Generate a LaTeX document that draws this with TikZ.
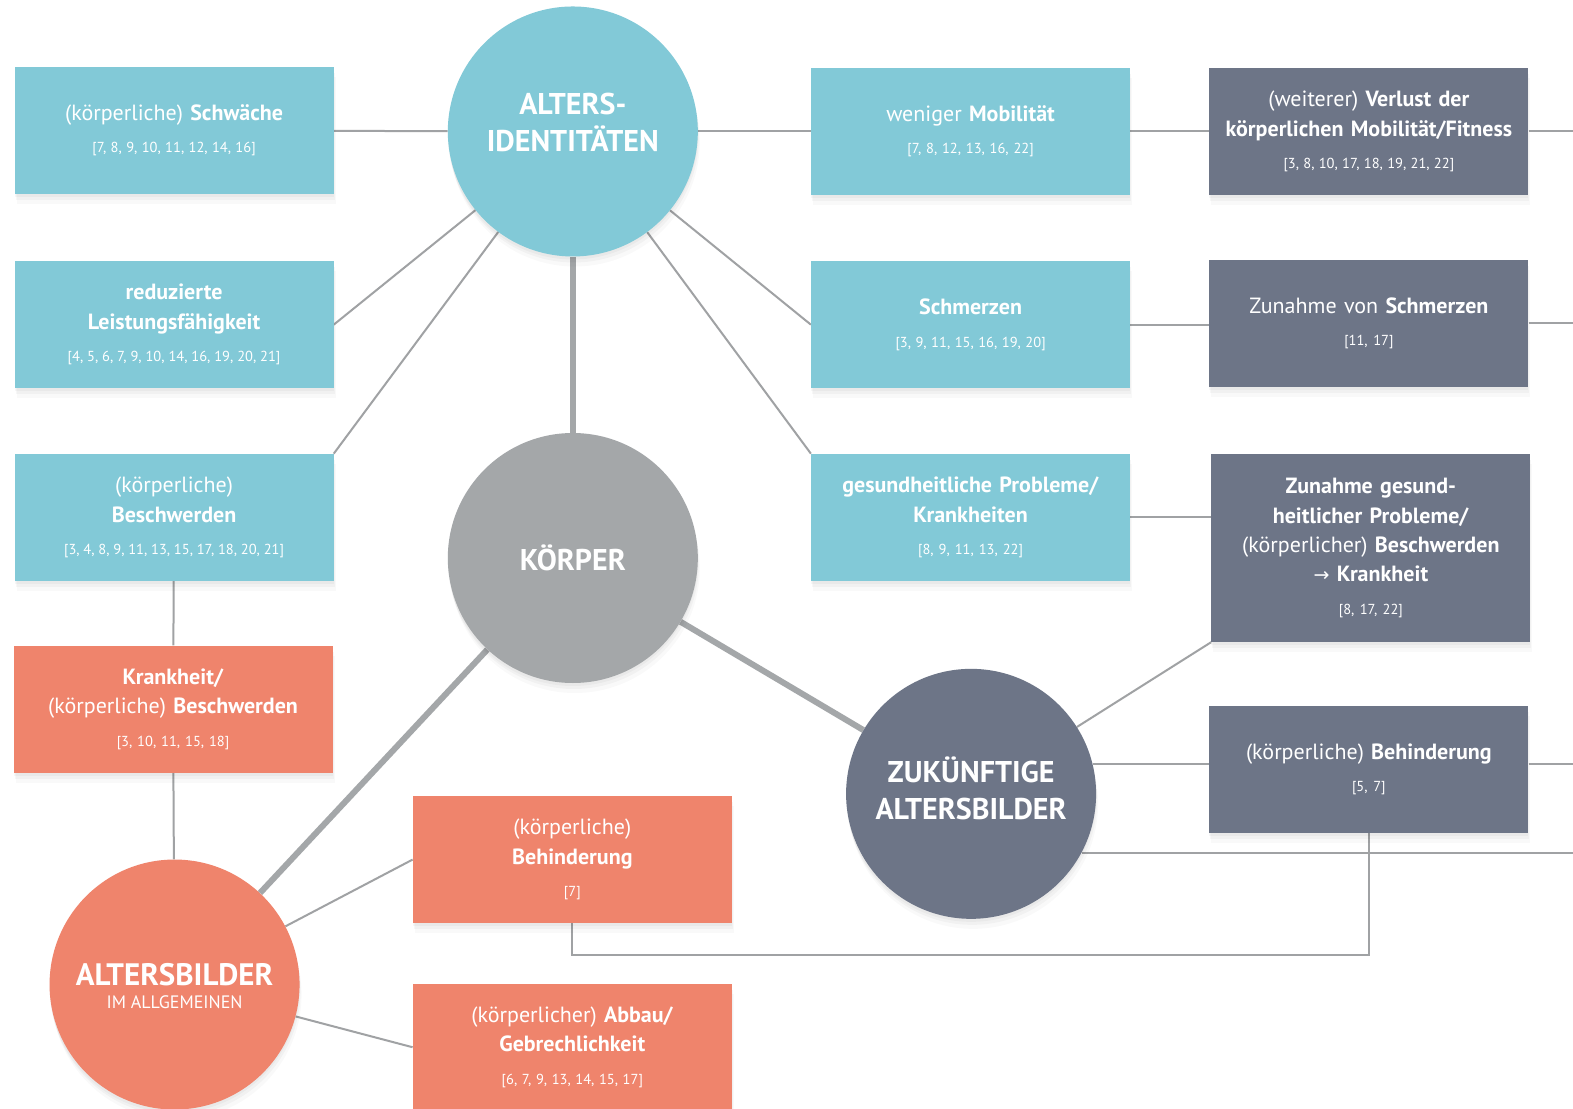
\documentclass[tikz,border=0pt]{standalone}
\usepackage{fontspec}
\setmainfont{PT Sans}
\newfontfamily\arrowfont{DejaVu Sans}
\usetikzlibrary{backgrounds,shadows}

\definecolor{aiblue}{RGB}{130,201,215}
\definecolor{zadark}{RGB}{109,117,135}
\definecolor{agred}{RGB}{239,132,108}
\definecolor{kgray}{RGB}{164,167,169}
\definecolor{linegray}{RGB}{160,162,164}

\newcommand\boxfont{\fontsize{22}{29.5}\selectfont}
\newcommand\reflist[1]{\\[3pt]{\fontsize{14.5}{18}\selectfont\spaceskip=0.2em plus 0.05em #1}}
\newcommand\circfont{\fontsize{30}{37}\selectfont\bfseries}

\tikzset{
  softshadow/.style={
      drop shadow={fill=black, opacity=0.03, shadow xshift=0pt, shadow yshift=-3pt},
      drop shadow={fill=black, opacity=0.03, shadow xshift=1pt, shadow yshift=-6pt},
      drop shadow={fill=black, opacity=0.025, shadow xshift=2pt, shadow yshift=-10pt}},
  box/.style={rectangle, minimum width=319pt, minimum height=127pt,
      text width=305pt, align=center, inner sep=0pt, text=white,
      font=\boxfont, softshadow},
  aibox/.style={box, fill=aiblue},
  zabox/.style={box, fill=zadark},
  agbox/.style={box, fill=agred},
  circ/.style={circle, minimum size=250pt, inner sep=0pt, text=white,
      align=center, font=\circfont, softshadow},
  link/.style={draw=linegray, line width=2pt},
  spoke/.style={draw=kgray, line width=6pt},
}

\begin{document}
\begin{tikzpicture}[x=1.0032pt, y=-1.0036pt]
  \useasboundingbox (0,0) rectangle (1568,1105);

  % hubs
  \node[circ, fill=aiblue] (ai) at (571,131)
    {\raisebox{5.5pt}[\height][\depth]{\begin{tabular}{@{}c@{}}ALTERS-\\IDENTITÄTEN\end{tabular}}};
  \node[circ, fill=kgray] (kp) at (571,556) {KÖRPER};
  \node[circ, fill=zadark] (za) at (968,791)
    {\begin{tabular}{@{}c@{}}ZUKÜNFTIGE\\ALTERSBILDER\end{tabular}};
  \node[circ, fill=agred] (ag) at (174,981)
    {\raisebox{-5.5pt}[\height][\depth]{\begin{tabular}{@{}c@{}}\fontsize{31}{37}\selectfont ALTERSBILDER\\[-14pt]
     {\fontsize{18}{20}\selectfont\mdseries IM ALLGEMEINEN}\end{tabular}}};

  % age identities (left column)
  \node[aibox] (s1) at (173.5,130)
    {(körperliche) \textbf{Schwäche}\reflist{[7, 8, 9, 10, 11, 12, 14, 16]}};
  \node[aibox] (s2) at (173.5,323.5)
    {\textbf{reduzierte}\\\textbf{Leistungsfähigkeit}\reflist{[4, 5, 6, 7, 9, 10, 14, 16, 19, 20, 21]}};
  \node[aibox] (s3) at (173.5,515.5)
    {(körperliche)\\\textbf{Beschwerden}\reflist{[3, 4, 8, 9, 11, 13, 15, 17, 18, 20, 21]}};

  % age identities (middle column)
  \node[aibox] (m1) at (967.5,131)
    {weniger \textbf{Mobilität}\reflist{[7, 8, 12, 13, 16, 22]}};
  \node[aibox] (m2) at (967.5,323.5)
    {\textbf{Schmerzen}\reflist{[3, 9, 11, 15, 16, 19, 20]}};
  \node[aibox] (m3) at (967.5,515.5)
    {\textbf{gesundheitliche Probleme/}\\\textbf{Krankheiten}\reflist{[8, 9, 11, 13, 22]}};

  % future images of age
  \node[zabox] (d1) at (1364.5,131)
    {(weiterer) \textbf{Verlust der}\\\textbf{körperlichen Mobilität/Fitness}\reflist{[3, 8, 10, 17, 18, 19, 21, 22]}};
  \node[zabox] (d2) at (1364.5,322)
    {Zunahme von \textbf{Schmerzen}\reflist{[11, 17]}};
  \node[zabox, minimum height=188pt] (d3) at (1366.5,546)
    {\textbf{Zunahme gesund-}\\\textbf{heitlicher Probleme/}\\(körperlicher) \textbf{Beschwerden}\\{\arrowfont\fontsize{19}{20}\selectfont →} \textbf{Krankheit}\reflist{[8, 17, 22]}};
  \node[zabox] (d4) at (1364.5,766.5)
    {(körperliche) \textbf{Behinderung}\reflist{[5, 7]}};

  % general images of age
  \node[agbox] (r1) at (172.5,706.5)
    {\textbf{Krankheit/}\\(körperliche) \textbf{Beschwerden}\reflist{[3, 10, 11, 15, 18]}};
  \node[agbox] (r2) at (570.5,856.5)
    {(körperliche)\\\textbf{Behinderung}\reflist{[7]}};
  \node[agbox] (r3) at (570.5,1043.5)
    {(körperlicher) \textbf{Abbau/}\\\textbf{Gebrechlichkeit}\reflist{[6, 7, 9, 13, 14, 15, 17]}};

  \coordinate (rim) at (1568,0);
  \coordinate (bend) at (1364.5,952);

  \begin{scope}[on background layer]
    \fill[white] (0,0) rectangle (1568,1105);

    % main spokes between the hubs
    \draw[spoke] (ai) -- (kp);
    \draw[spoke] (kp) -- (za);
    \draw[spoke] (kp) -- (ag);

    % links of the age identities
    \draw[link] (s1) -- (ai);
    \draw[link] (s2.east) -- (ai);
    \draw[link] (s3.north east) -- (ai);
    \draw[link] (ai) -- (m1);
    \draw[link] (ai) -- (m2.west);
    \draw[link] (ai) -- (m3.north west);

    % links towards the future images of age
    \draw[link] (m1) -- (d1);
    \draw[link] (m2.east) -- (m2.east -| d2.west);
    \draw[link] (m3.east) -- (m3.east -| d3.west);
    \draw[link] (d3.south west) -- (za);
    \draw[link] (za.14) -- (za.14 -| d4.west);
    \draw[link] (d1.east) -- (rim |- d1.east);
    \draw[link] (d2.east) -- (rim |- d2.east);
    \draw[link] (d4.east |- za.14) -- (rim |- za.14);
    \draw[link] (za.-28.7) -- (rim |- za.-28.7);
    \draw[link] (d4.south) -- (bend) -| (r2.south);

    % links of the general images of age
    \draw[link] (s3) -- (r1);
    \draw[link] (r1) -- (ag);
    \draw[link] (ag) -- (r2.west);
    \draw[link] (ag) -- (r3.west);
  \end{scope}
\end{tikzpicture}
\end{document}
